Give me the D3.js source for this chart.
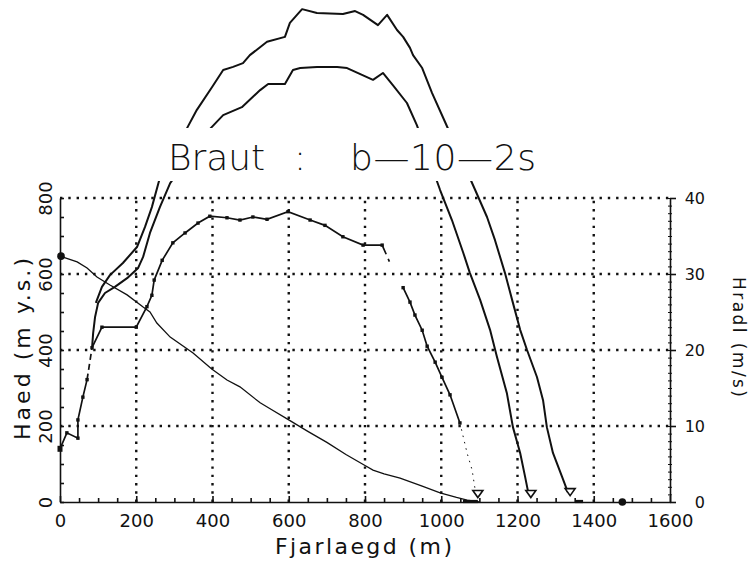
<!DOCTYPE html>
<html lang="is">
<head>
  <meta charset="utf-8">
  <title>Braut : b-10-2s</title>
  <script src="https://d3js.org/d3.v7.min.js"></script>
  <style>
    body { margin: 0; background: #fff; }
    svg { display: block; font-family: "DejaVu Sans", sans-serif; }
    .grid { stroke: #111; stroke-width: 2.4; stroke-dasharray: 2.4 5.9; fill: none; }
    .axis path, .axis line { stroke: #111; stroke-width: 1.6; }
    .axis text { fill: #111; font-size: 18px; font-family: "DejaVu Sans", sans-serif; }
    .curve { fill: none; stroke: #111; stroke-width: 2; stroke-linejoin: round; }
    .terrain { fill: none; stroke: #111; stroke-width: 1.3; }
    .vel { fill: none; stroke: #111; stroke-width: 1.7; }
    .lbl { fill: #111; }
    .title { fill: #111; font-size: 36px; font-weight: 200; }
  </style>
</head>
<body>
<svg width="754" height="570"></svg>
<script>
// Fjarlaegd (m) / Haed (m y.s.)
var landslag = [[0,647],[45,632],[71,616],[97,592],[131,571],[176,545],[218,513],[236,500],[254,471],
  [289,434],[349,392],[398,350],[438,321],[472,303],[525,261],[550,246],[600,216],[650,186],[700,157],
  [750,125],[800,96],[821,84],[850,74],[892,63],[950,42],[997,24],[1040,12],[1068,5],[1100,0]];

// ytri og innri ferill (m, m)
var ytri = [[94,524],[110,566],[131,597],[165,629],[202,671],[223,724],[241,776],[262,853],[328,974],
  [359,1032],[399,1092],[428,1137],[454,1145],[480,1155],[498,1176],[543,1211],[590,1224],[603,1261],
  [635,1297],[674,1287],[742,1284],[774,1292],[795,1282],[834,1255],[858,1282],[884,1242],[900,1224],
  [918,1195],[926,1176],[950,1142],[976,1076],[1010,1000],[1089,821],[1120,750],[1141,689],[1167,603],
  [1188,524],[1207,453],[1225,400],[1251,329],[1267,268],[1277,197],[1293,129],[1317,66],[1332,26]];
var innri = [[84,405],[87,445],[92,487],[100,524],[118,550],[144,566],[176,589],[205,616],[218,645],
  [236,708],[262,776],[289,839],[386,974],[428,1018],[477,1039],[525,1084],[546,1100],[590,1100],
  [611,1137],[630,1142],[674,1145],[727,1145],[753,1142],[821,1111],[847,1129],[873,1097],[910,1050],
  [936,992],[997,821],[1028,742],[1057,658],[1075,603],[1102,532],[1128,453],[1146,382],[1172,287],
  [1188,197],[1207,129],[1220,66],[1228,26]];

// Hradi (m/s), i bitum
var hradiA = [[0,7],[18,9.1],[47,8.4],[47,10.8],[60,13.8],[71,16.1]];
var hradiB = [[84,20.3],[110,23],[200,23],[228,25.7],[241,27.2],[247,29.2],[268,31.8],[296,34.1],
  [328,35.4],[362,36.7],[393,37.6],[438,37.4],[472,37.1],[506,37.5],[543,37.2],[598,38.2],[656,37.1],
  [695,36.4],[742,34.9],[795,33.8],[845,33.8]];
var hradiB2 = [[845,33.8],[866,31.4]];
var hradiC = [[900,28.2],[918,26.3],[931,24.6],[950,22.6],[963,20.5],[984,18.4],[1002,16.4],
  [1023,14.1],[1049,10.4]];
var hradiD = [[1049,10.4],[1068,6.4],[1081,4.2],[1089,1.6]];

// endapunktar (m, m y.s.)
var thrihyrningar = [[1096,21],[1235,21],[1338,26]];
var jordStrik = [[1057,1096],[1351,1372]];
var punktur = [1475, 0];

var xTicks = d3.range(0, 1601, 50);
var yTicks = d3.range(0, 801, 50);
var xGrid = [200, 400, 600, 800, 1000, 1200, 1400];
var yGrid = [200, 400, 600, 800];
var hradiTicks = [0, 10, 20, 30, 40];

var svg = d3.select("svg");

var x = d3.scaleLinear().domain([0, 1600]).range([60, 670]),
    y = d3.scaleLinear().domain([0, 800]).range([502, 198]),
    yR = d3.scaleLinear().domain([0, 40]).range([502, 198]);

var line = d3.line().x(function(d) { return x(d[0]); }).y(function(d) { return y(d[1]); });
var lineR = d3.line().x(function(d) { return x(d[0]); }).y(function(d) { return yR(d[1]); });

// grid
svg.append("g").selectAll("line").data(xGrid).enter().append("line")
    .attr("class", "grid")
    .attr("x1", function(d) { return x(d); }).attr("x2", function(d) { return x(d); })
    .attr("y1", y(0)).attr("y2", y(800));
svg.append("g").selectAll("line").data(yGrid).enter().append("line")
    .attr("class", "grid")
    .attr("x1", x(0)).attr("x2", x(1600))
    .attr("y1", function(d) { return y(d); }).attr("y2", function(d) { return y(d); });

// axes
var ax = svg.append("g")
    .attr("class", "axis")
    .attr("transform", "translate(0," + y(0) + ")")
    .call(d3.axisBottom(x).tickValues(xTicks).tickSizeInner(-4).tickSizeOuter(0)
      .tickFormat(function(d) { return d % 200 === 0 ? d : ""; }));
ax.selectAll(".tick line").attr("y2", function(d) { return d % 200 === 0 ? -6 : -4; });
ax.selectAll("text").attr("y", 25).attr("dy", 0);

var ay = svg.append("g")
    .attr("class", "axis")
    .attr("transform", "translate(" + x(0) + ",0)")
    .call(d3.axisLeft(y).tickValues(yTicks).tickSizeInner(-4).tickSizeOuter(0)
      .tickFormat(function(d) { return d % 200 === 0 ? d : ""; }));
ay.selectAll("text")
    .attr("transform", "rotate(-90)")
    .attr("x", 0).attr("y", -8).attr("dy", 0)
    .attr("text-anchor", "middle");

var ar = svg.append("g")
    .attr("class", "axis")
    .attr("transform", "translate(" + x(1600) + ",0)");
ar.call(d3.axisRight(yR).tickValues(d3.range(0, 41, 1)).tickSizeInner(-2).tickSizeOuter(0).tickFormat(""));
ar.selectAll(".tick line").attr("x1", 2).style("stroke-width", 1);
var ar2 = svg.append("g")
    .attr("class", "axis")
    .attr("transform", "translate(" + x(1600) + ",0)")
    .call(d3.axisRight(yR).tickValues(hradiTicks).tickSize(6).tickSizeOuter(0));
ar2.select(".domain").remove();
ar2.selectAll("text").attr("x", 35).attr("text-anchor", "end").style("font-size", "16px");

// curves
svg.append("path").attr("class", "terrain").attr("d", line(landslag));
svg.append("path").attr("class", "curve").attr("d", line(ytri));
svg.append("path").attr("class", "curve").attr("d", line(innri));

svg.append("path").attr("class", "vel").attr("d", lineR(hradiA));
svg.append("path").attr("class", "vel").attr("d", lineR(hradiB));
svg.append("path").attr("class", "vel").attr("d", lineR([hradiA[hradiA.length - 1], hradiB[0]]))
    .style("stroke-dasharray", "6 4");
svg.append("path").attr("class", "vel").attr("d", lineR(hradiB2)).style("stroke-dasharray", "10 5 3 5");
svg.append("path").attr("class", "vel").attr("d", lineR(hradiC));
svg.append("path").attr("class", "vel").attr("d", lineR(hradiD))
    .style("stroke-width", 1).style("stroke-dasharray", "1.5 5");

var hradiPts = hradiA.concat(hradiB, hradiC);
svg.append("g").selectAll("rect").data(hradiPts).enter().append("rect")
    .attr("x", function(d) { return x(d[0]) - 1.7; })
    .attr("y", function(d) { return yR(d[1]) - 1.7; })
    .attr("width", 3.4).attr("height", 3.4).attr("fill", "#111");

// markers
svg.append("rect")
    .attr("x", x(hradiA[0][0]) - 2.5).attr("y", yR(hradiA[0][1]) - 3)
    .attr("width", 5).attr("height", 6).attr("fill", "#111");
svg.append("circle")
    .attr("cx", x(landslag[0][0]) + 1).attr("cy", y(landslag[0][1])).attr("r", 3.8).attr("fill", "#111");
svg.append("circle")
    .attr("cx", x(punktur[0])).attr("cy", y(punktur[1])).attr("r", 3.8).attr("fill", "#111");

svg.append("g").selectAll("line").data(jordStrik).enter().append("line")
    .attr("x1", function(d) { return x(d[0]); }).attr("x2", function(d) { return x(d[1]); })
    .attr("y1", y(0) - 0.5).attr("y2", y(0) - 0.5)
    .attr("stroke", "#111").attr("stroke-width", 3.2);

svg.append("g").selectAll("path").data(thrihyrningar).enter().append("path")
    .attr("d", "M-5,-3.5L5,-3.5L0,3.5Z")
    .attr("transform", function(d) { return "translate(" + x(d[0]) + "," + y(d[1]) + ")"; })
    .attr("fill", "#fff").attr("stroke", "#111").attr("stroke-width", 1.6);

// title (white box hides the curves behind it)
svg.append("rect").attr("x", 150).attr("y", 128).attr("width", 410).attr("height", 53).attr("fill", "#fff");
svg.append("text").attr("class", "title")
    .attr("x", 168).attr("y", 170)
    .attr("textLength", 97).attr("lengthAdjust", "spacing")
    .text("Braut");
svg.append("text").attr("class", "title")
    .attr("x", 294).attr("y", 170)
    .text(":");
svg.append("text").attr("class", "title")
    .attr("x", 350).attr("y", 170)
    .attr("textLength", 186).attr("lengthAdjust", "spacing")
    .text("b\u201410\u20142s");

svg.append("text").attr("class", "lbl")
    .attr("x", 275).attr("y", 554)
    .attr("textLength", 177).attr("lengthAdjust", "spacing")
    .style("font-size", "22px")
    .text("Fjarlaegd (m)");

svg.append("text").attr("class", "lbl")
    .attr("transform", "translate(30,349) rotate(-90)")
    .attr("text-anchor", "middle")
    .attr("textLength", 182).attr("lengthAdjust", "spacing")
    .style("font-size", "22px")
    .text("Haed (m y.s.)");

svg.append("text").attr("class", "lbl")
    .attr("transform", "translate(733,337) rotate(90)")
    .attr("text-anchor", "middle")
    .attr("textLength", 120).attr("lengthAdjust", "spacing")
    .style("font-size", "17px")
    .text("Hradl (m/s)");
</script>
</body>
</html>
